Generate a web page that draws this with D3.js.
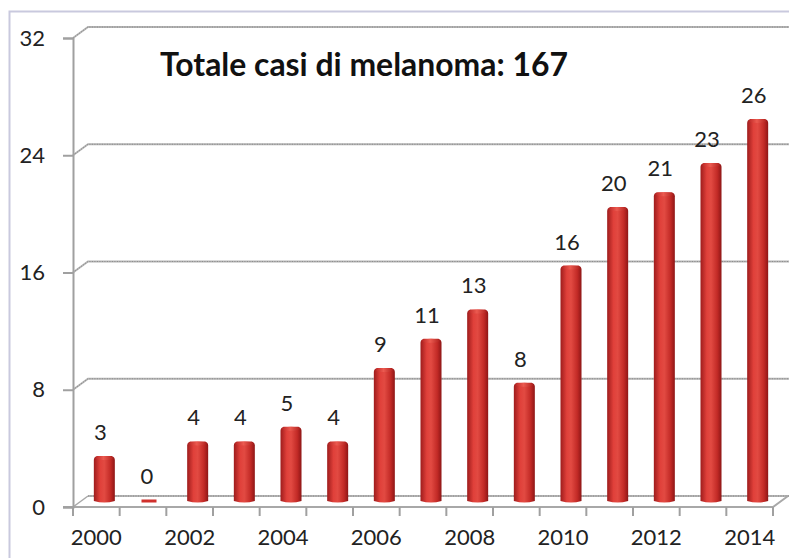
<!DOCTYPE html>
<html>
<head>
<meta charset="utf-8">
<script src="https://cdn.jsdelivr.net/npm/d3@7"></script>
<style>
  body { margin: 0; background: #fff; }
  svg { display: block; font-family: Lato, "Open Sans", sans-serif; }
</style>
</head>
<body>
<svg id="chart" width="789" height="558"></svg>
<script>
const years = ["2000","2001","2002","2003","2004","2005","2006","2007","2008","2009","2010","2011","2012","2013","2014"];
const cases = [3, 0, 4, 4, 5, 4, 9, 11, 13, 8, 16, 20, 21, 23, 26];
const yTicks = [0, 8, 16, 24, 32];
const xLabels = ["2000","2002","2004","2006","2008","2010","2012","2014"];
const titleText = "Totale casi di melanoma: 167";

const svg = d3.select("#chart");

// depth offset of the 3d floor / back wall
const dx = 15, dy = -11;

const x = d3.scaleBand().domain(years).range([73, 773]).padding(0);
const y = d3.scaleLinear().domain([0, 32]).range([507, 38]);

// frame
svg.append("path")
  .attr("d", "M9.5,558 L9.5,11.5 L789,11.5")
  .style("fill", "none")
  .style("stroke", "#c9c9de")
  .style("stroke-width", 2);

// gradients for the cylinders
const defs = svg.append("defs");
const grad = defs.append("linearGradient").attr("id", "cyl").attr("x1", "0").attr("x2", "1");
[["0%", "#9e1c1c"], ["30%", "#e0403a"], ["50%", "#e24a42"], ["80%", "#c22a26"], ["100%", "#8e1616"]]
  .forEach(([o, c]) => grad.append("stop").attr("offset", o).attr("stop-color", c));
const capGrad = defs.append("linearGradient").attr("id", "cap").attr("x1", "0").attr("x2", "1");
[["0%", "#c02a28"], ["45%", "#ec5a50"], ["100%", "#b22420"]]
  .forEach(([o, c]) => capGrad.append("stop").attr("offset", o).attr("stop-color", c));

// back gridlines with diagonal from axis
const grid = svg.append("g");
yTicks.forEach((t) => {
  const yy = y(t);
  const d = t === 0
    ? `M${x.range()[0] + dx},${yy + dy} L789,${yy + dy}`
    : `M73,${yy} L${73 + dx},${yy + dy} L789,${yy + dy}`;
  grid.append("path").attr("d", d)
    .style("fill", "none").style("stroke", "#b4b4b4").style("stroke-width", 2);
  grid.append("path").attr("d", d)
    .style("fill", "none").style("stroke", "#8a8a8a").style("stroke-width", 1)
    .style("stroke-dasharray", "1,1.5");
});

// floor front edge + diagonal at right
svg.append("path")
  .attr("d", `M63,${y(0)} L${x.range()[1]},${y(0)} L${x.range()[1] + dx},${y(0) + dy}`)
  .style("fill", "none").style("stroke", "#a8a8a8").style("stroke-width", 2);
svg.append("path")
  .attr("d", `M73,${y(0)} L${73 + dx},${y(0) + dy}`)
  .style("fill", "none").style("stroke", "#a8a8a8").style("stroke-width", 1.5);

// y axis
const yAxis = svg.append("g")
  .attr("transform", "translate(73,0)")
  .call(d3.axisLeft(y).tickValues(yTicks).tickSize(10).tickPadding(18).tickFormat(d3.format("d")));
yAxis.select(".domain").style("stroke", "#a0a0a0").style("stroke-width", 2);
yAxis.selectAll(".tick line").style("stroke", "#a0a0a0").style("stroke-width", 2);
yAxis.selectAll(".tick text")
  .style("font-family", "Lato, sans-serif")
  .style("font-size", "22px")
  .style("fill", "#222");

// x ticks between categories
const xTickPos = years.map((d) => x(d)).concat([x.range()[1]]);
svg.append("g").selectAll("line")
  .data(xTickPos)
  .enter()
  .append("line")
  .attr("x1", (d) => d).attr("x2", (d) => d)
  .attr("y1", y(0)).attr("y2", y(0) + 9)
  .style("stroke", "#a0a0a0").style("stroke-width", 2);

// x labels
svg.append("g").selectAll("text")
  .data(xLabels)
  .enter()
  .append("text")
  .attr("x", (d) => x(d) + x.bandwidth() / 2)
  .attr("y", 545)
  .attr("text-anchor", "middle")
  .style("font-size", "22px")
  .style("fill", "#222")
  .text((d) => d);

// bars as cylinders
const bw = 21;
const barOff = 8;
const baseY = (v) => y(v) - 6;
const bars = svg.append("g").selectAll("g")
  .data(years.map((yr, i) => ({ yr: yr, v: cases[i] })))
  .enter()
  .append("g")
  .attr("transform", (d) => `translate(${x(d.yr) + x.bandwidth() / 2 + barOff - bw / 2}, 0)`);
bars.filter((d) => d.v > 0)
  .append("path")
  .attr("d", (d) => {
    const top = baseY(d.v), bot = baseY(0);
    return `M0,${bot} L0,${top + 3} Q0,${top} 3,${top - 1} L${bw - 3},${top - 1} Q${bw},${top} ${bw},${top + 3} L${bw},${bot} Q${bw / 2},${bot + 3} 0,${bot} Z`;
  })
  .style("fill", "url(#cyl)");
bars.filter((d) => d.v > 0)
  .append("ellipse")
  .attr("cx", bw / 2)
  .attr("cy", (d) => baseY(d.v) + 1)
  .attr("rx", bw / 2 - 2)
  .attr("ry", 2)
  .style("fill", "url(#cap)");
bars.filter((d) => d.v === 0)
  .append("rect")
  .attr("x", 1).attr("width", bw - 6)
  .attr("y", baseY(0) - 1.5).attr("height", 3)
  .style("fill", "#d0302c");

// value labels
svg.append("g").selectAll("text")
  .data(years.map((yr, i) => ({ yr: yr, v: cases[i] })))
  .enter()
  .append("text")
  .attr("x", (d) => x(d.yr) + x.bandwidth() / 2 + 4)
  .attr("y", (d) => baseY(d.v) - 17)
  .attr("text-anchor", "middle")
  .style("font-size", "22px")
  .style("fill", "#222")
  .text((d) => d.v);

// title, fitted to the width in the picture
const title = svg.append("text")
  .attr("x", 160)
  .attr("y", 76)
  .style("font-weight", "bold")
  .style("font-size", "24px")
  .style("fill", "#111")
  .text(titleText);
const tw = title.node().getComputedTextLength();
title.style("font-size", (24 * 408 / tw).toFixed(1) + "px");
</script>
</body>
</html>
